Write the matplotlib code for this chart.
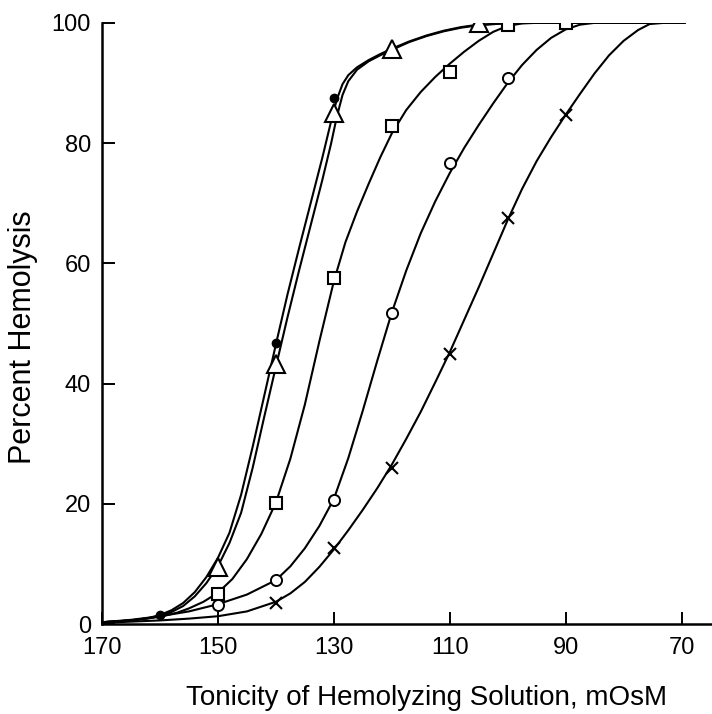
import numpy as np
import matplotlib
matplotlib.use("Agg")
import matplotlib.pyplot as plt

plt.rcParams['font.family'] = ['Liberation Sans', 'DejaVu Sans']

# measured points (tonicity, % hemolysis)
dot_x = [160, 140, 130]
dot_y = [1.5, 46.8, 87.5]
tri_x = [150, 140, 130, 120, 105]
tri_y = [9.5, 43.2, 85.0, 95.7, 100.0]
sq_x = [150, 140, 130, 120, 110, 100, 90]
sq_y = [5.0, 20.2, 57.6, 82.9, 91.9, 99.7, 100.0]
circ_x = [150, 140, 130, 120, 110, 100]
circ_y = [3.2, 7.3, 20.6, 51.8, 76.7, 90.9]
cross_x = [140, 130, 120, 110, 100, 90]
cross_y = [3.5, 12.6, 26.0, 45.0, 67.6, 84.7]

# fitted curves
dot_cx = [170, 165, 162, 160, 158, 156, 154, 152, 150, 148, 146, 144, 142, 140,
          138, 136, 134, 132, 130.5, 129.5, 128.5, 127.5, 126, 124, 122, 120,
          117, 114, 111, 108, 105, 100, 95, 69.5]
dot_cy = [0.3, 0.6, 1.0, 1.5, 2.3, 3.5, 5.3, 7.8, 11.0, 15.2, 21.5, 29.5, 38.0, 46.5,
          54.8, 62.5, 70.0, 77.5, 83.5, 87.2, 89.8, 91.3, 92.6, 93.8, 94.8, 95.7,
          96.9, 97.9, 98.7, 99.3, 99.7, 99.95, 100, 100]
tri_cx = [170, 165, 162, 160, 158, 156, 154, 152, 150, 148, 146, 144, 142, 140,
          138, 136, 134, 132, 130.5, 129.5, 128.5, 127.5, 126, 124, 122, 120,
          117, 114, 111, 108, 105, 100, 95, 69.5]
tri_cy = [0.3, 0.6, 0.95, 1.35, 2.0, 3.0, 4.6, 6.8, 9.6, 13.5, 18.5, 26.0, 34.5, 42.8,
          51.0, 58.8, 66.3, 73.8, 79.8, 84.3, 88.0, 90.3, 92.2, 93.6, 94.6, 95.5,
          96.8, 97.8, 98.6, 99.2, 99.6, 99.95, 100, 100]
sq_cx = [170, 165, 160, 157, 155, 152.5, 150, 147.5, 145, 142.5, 140, 137.5, 135,
         132.5, 130, 128, 126, 124, 122, 120, 117.5, 115, 112.5, 110, 107.5, 105,
         102.5, 100, 97.5, 95, 69.5]
sq_cy = [0.3, 0.6, 1.2, 1.9, 2.6, 3.7, 5.2, 7.5, 10.8, 15.0, 20.2, 27.5, 36.5,
         47.0, 57.0, 63.5, 68.6, 73.2, 77.6, 81.6, 85.5, 88.5, 91.0, 93.2, 95.2, 97.0,
         98.5, 99.5, 99.9, 100, 100]
circ_cx = [170, 165, 160, 155, 150, 145, 140, 137.5, 135, 132.5, 130, 127.5, 125,
           122.5, 120, 117.5, 115, 112.5, 110, 107.5, 105, 102.5, 100, 97.5, 95,
           92.5, 90, 87.5, 85, 69.5]
circ_cy = [0.3, 0.7, 1.3, 2.1, 3.3, 4.9, 7.3, 9.6, 12.6, 16.3, 20.8, 27.6, 35.5,
           43.8, 51.8, 58.8, 65.0, 70.3, 75.0, 79.2, 83.0, 86.6, 90.0, 93.0, 95.5,
           97.5, 98.9, 99.7, 100, 100]
cross_cx = [170, 165, 160, 155, 150, 145, 140, 137.5, 135, 132.5, 130, 127.5, 125,
            122.5, 120, 117.5, 115, 112.5, 110, 107.5, 105, 102.5, 100, 97.5, 95,
            92.5, 90, 87.5, 85, 82.5, 80, 77.5, 75.5, 73, 69.5]
cross_cy = [0.2, 0.4, 0.6, 0.9, 1.3, 2.1, 3.7, 5.1, 7.0, 9.5, 12.4, 15.6, 19.0,
            22.6, 26.5, 30.8, 35.3, 40.2, 45.2, 50.6, 56.0, 61.6, 67.2, 72.4, 77.0,
            81.0, 84.7, 88.2, 91.6, 94.6, 97.0, 98.8, 99.8, 100, 100]

x_ticks = [170, 150, 130, 110, 90, 70]
y_ticks = [0, 20, 40, 60, 80, 100]

fig = plt.figure(figsize=(7.12, 7.14), dpi=100)
ax = fig.add_axes([0.1433, 0.126, 0.857, 0.842])

lw = 1.5
for cx, cy in [(dot_cx, dot_cy), (tri_cx, tri_cy), (sq_cx, sq_cy),
               (circ_cx, circ_cy), (cross_cx, cross_cy)]:
    ax.plot(cx, cy, color="black", lw=lw, solid_joinstyle="round", zorder=2)

ax.plot(dot_x, dot_y, "o", ms=6, color="black", zorder=3)
ax.plot(tri_x, tri_y, "^", ms=13, mfc="white", mec="black", mew=1.5, zorder=3)
ax.plot(sq_x, sq_y, "s", ms=8, mfc="white", mec="black", mew=1.5, zorder=3)
ax.plot(circ_x, circ_y, "o", ms=8, mfc="white", mec="black", mew=1.4, zorder=3)
ax.plot(cross_x, cross_y, "x", ms=8.5, color="black", mew=1.5, zorder=3)

ax.set_xlim(170, 64.7)
ax.set_ylim(0, 100)
ax.set_xticks(x_ticks)
ax.set_yticks(y_ticks)
ax.spines["top"].set_visible(False)
ax.spines["right"].set_visible(False)
for s in ["left", "bottom"]:
    ax.spines[s].set_linewidth(1.8)
ax.tick_params(direction="in", length=9, width=1.4, labelsize=17)
ax.tick_params(axis="y", pad=8)
ax.tick_params(axis="x", pad=9)

fig.text(0.599, 9 / 714, "Tonicity of Hemolyzing Solution, mOsM", fontsize=20,
         ha="center", va="baseline")
fig.text(23 / 712, 0.528, "Percent Hemolysis", fontsize=22, rotation=90,
         ha="center", va="center")

fig.savefig("out.png", dpi=100)
